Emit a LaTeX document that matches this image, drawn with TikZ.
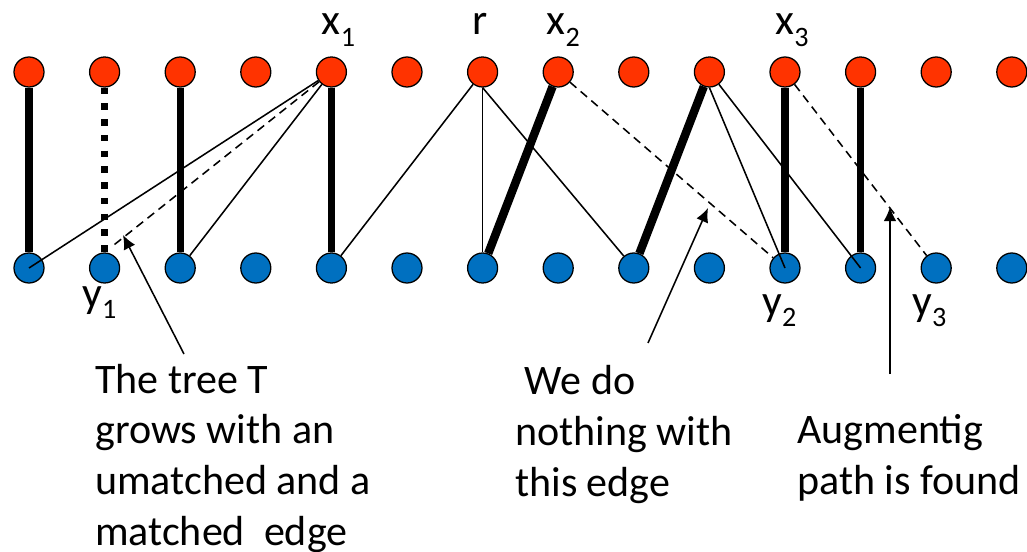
\documentclass[tikz,border=0pt]{standalone}
\usepackage{fontspec}
\setmainfont{Carlito}
\usetikzlibrary{arrows.meta}
\tikzset{>={Latex[length=10pt,width=9pt]}}
\definecolor{topred}{HTML}{FF3300}
\definecolor{botblue}{HTML}{0070C0}
\newcommand{\idx}[1]{\raisebox{-8pt}{\fontsize{20}{20}\selectfont #1}}
\tikzset{
  xdot/.style={circle, draw, line width=0.9pt, fill=topred, minimum size=0.75cm, inner sep=0pt},
  ydot/.style={xdot, fill=botblue},
  lbl/.style={inner sep=0pt, anchor=base west, font=\fontsize{31}{36}\selectfont},
  note/.style={inner sep=0pt, anchor=base west, align=left, font=\fontsize{29.9}{36}\selectfont},
  matchedge/.style={line width=5pt},
  pathedge/.style={line width=6pt},
  treeedge/.style={line width=1.1pt},
  otheredge/.style={line width=1.1pt, dash pattern=on 6pt off 4pt},
  pointer/.style={->, line width=1.1pt}
}

\begin{document}
\begin{tikzpicture}
\useasboundingbox (0,0) rectangle (25.675,-13.8);
\foreach \i in {0,...,13} {
  \node[xdot] (t\i) at (0.725+1.89*\i, -1.8) {};
  \node[ydot] (b\i) at (0.725+1.89*\i, -6.7) {};
}
\draw[matchedge] (t0) -- (b0);
\draw[matchedge, dash pattern=on 4.7pt off 6.5pt] (t1) -- (b1);
\draw[matchedge] (t2) -- (b2);
\draw[matchedge] (t4) -- (b4);
\draw[matchedge] (t10) -- (b10);
\draw[matchedge] (t11) -- (b11);
\draw[pathedge] (t7) -- (b6);
\draw[pathedge] (t9) -- (b8);
\draw[treeedge] (t4) -- (b0.center);
\draw[treeedge] (t4) -- (b2);
\draw[otheredge, shorten >=0.2cm] (t4) -- (b1.north);
\draw[treeedge] (t6) -- (b4);
\draw[treeedge] (t6) -- (b6);
\draw[treeedge] (t6.south) -- (b8);
\draw[otheredge] (t7) -- (b10);
\draw[treeedge] (t9.south) -- (b10.center);
\draw[treeedge] (t9) -- (b11.center);
\draw[otheredge] (t10) -- (b12);

\node[lbl] (lx1) at (8.04,-0.875) {x\idx{1}};
\node[lbl] (lr) at (11.8,-0.875) {r};
\node[lbl] (lx2) at (13.66,-0.875) {x\idx{2}};
\node[lbl] (lx3) at (19.38,-0.875) {x\idx{3}};
\node[lbl] (ly1) at (2.05,-7.675) {y\idx{1}};
\node[lbl] (ly2) at (19.05,-7.875) {y\idx{2}};
\node[lbl] (ly3) at (22.8,-7.875) {y\idx{3}};

% base of a multi-line note is its last line
\node[note] (grow) at (2.375,-13.63) {The tree T\\grows with an\\umatched and a\\matched\ \ edge};
\node[note] (idle) at (12.875,-12.4) {\ We do\\nothing with\\this edge};
\node[note] (found) at (19.93,-12.35) {Augmentig\\path is found};

\coordinate (a1) at (4.6,-8.85);
\coordinate (h1) at (3.075,-5.875);
\coordinate (a2) at (16.2,-8.575);
\coordinate (h2) at (17.7,-5.2);
\coordinate (a3) at (22.25,-9.35);
\coordinate (h3) at (22.25,-5.175);
\draw[pointer] (a1) -- (h1);
\draw[pointer] (a2) -- (h2);
\draw[pointer] (a3) -- (h3);
\end{tikzpicture}
\end{document}
